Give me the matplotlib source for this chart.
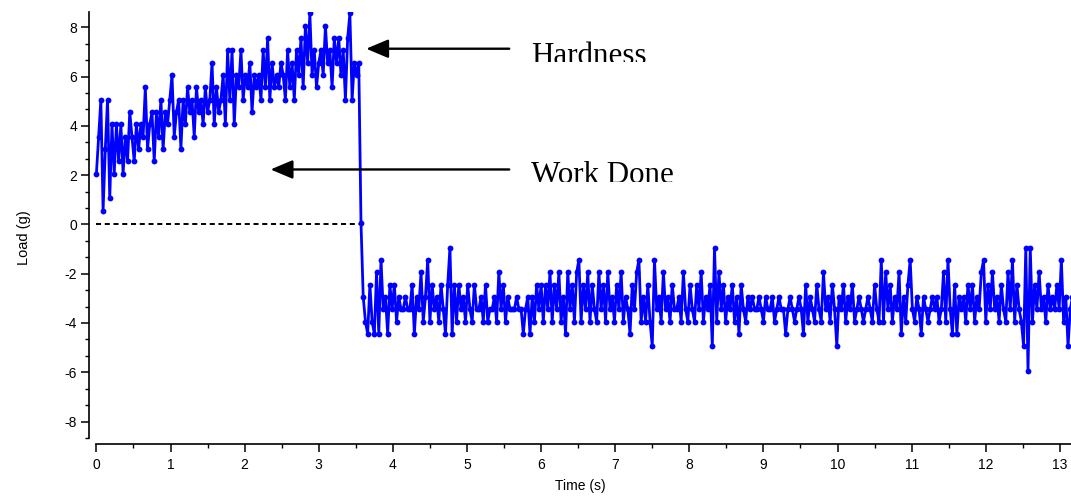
import numpy as np
import matplotlib
matplotlib.use("Agg")
import matplotlib.pyplot as plt
from matplotlib.ticker import MultipleLocator
from matplotlib.transforms import Bbox, TransformedBbox

# ---------------- data ----------------
sample_interval = 0.03  # s between samples

# compression phase (t = 0 ... 3.54 s)
load_compression = [
    2.06, 3.56, 5.06, 0.56, 3.06, 5.06, 1.06, 4.06, 2.06, 4.06,
    2.56, 4.06, 2.06, 3.56, 2.56, 4.56, 3.56, 2.56, 4.06, 3.06,
    4.06, 3.56, 5.56, 3.06, 4.06, 4.56, 2.56, 4.56, 3.56, 5.06,
    3.06, 4.56, 4.06, 5.06, 6.06, 3.56, 4.56, 5.06, 3.06, 5.06,
    4.06, 5.56, 4.56, 5.06, 3.56, 5.56, 4.56, 5.06, 4.06, 5.56,
    4.56, 5.06, 6.56, 4.06, 5.56, 4.56, 5.06, 6.06, 4.06, 7.06,
    5.06, 7.06, 4.06, 6.06, 5.56, 7.06, 5.06, 6.06, 5.56, 6.56,
    4.56, 6.06, 5.56, 6.06, 5.06, 7.06, 5.56, 7.56, 5.06, 6.56,
    5.56, 6.06, 5.56, 6.56, 6.06, 5.06, 7.06, 5.56, 6.56, 5.06,
    7.06, 6.06, 7.56, 5.56, 8.06, 6.56, 8.56, 6.06, 7.06, 5.56,
    6.56, 7.06, 6.06, 8.06, 6.56, 7.06, 5.56, 7.56, 6.56, 7.56,
    6.06, 7.06, 5.06, 7.56, 8.56, 5.06, 6.56, 6.06, 6.56,
]
# probe withdrawal
load_drop = [0.06, -2.94]
# retraction phase (t = 3.63 ... 13.20 s)
load_retraction = [
    # 3.63 - 4.59
    -3.94, -4.44, -2.44, -3.94, -4.44, -1.94, -4.44, -1.44, -3.44, -2.94, -4.44,
    -2.44, -3.44, -2.44, -3.94, -2.94, -3.44, -3.44, -2.94, -3.44, -3.44, -2.44,
    -4.44, -2.94, -3.44, -1.94, -3.94, -2.94, -1.44, -3.94, -2.44, -3.44, -2.94,
    # 4.62 - 5.58
    -3.94, -2.44, -3.44, -4.44, -2.44, -0.94, -4.44, -2.44, -3.94, -2.44, -3.44,
    -2.94, -3.94, -2.44, -3.44, -3.94, -2.44, -3.44, -3.44, -2.94, -3.94, -2.44,
    -3.94, -3.44, -3.44, -2.94, -3.94, -1.94, -3.44, -2.44, -3.94, -2.94, -3.44,
    # 5.61 - 6.57
    -3.44, -3.44, -2.94, -3.44, -3.44, -4.44, -3.44, -2.94, -4.44, -2.94, -3.94,
    -2.44, -3.44, -2.44, -3.94, -2.44, -3.44, -1.94, -3.94, -2.44, -3.44, -1.94,
    -3.94, -2.94, -4.44, -1.94, -3.44, -2.44, -3.94, -1.94, -1.44, -3.94, -2.44,
    # 6.60 - 7.56
    -3.44, -1.94, -3.94, -2.44, -3.44, -3.94, -1.94, -3.44, -2.44, -3.94, -1.94,
    -3.44, -2.94, -3.94, -2.44, -3.44, -1.94, -3.94, -2.94, -3.44, -4.44, -2.44,
    -3.44, -1.94, -1.44, -3.94, -2.94, -3.94, -2.44, -3.94, -4.94, -1.44, -3.44,
    # 7.59 - 8.55
    -2.94, -3.94, -1.94, -3.44, -2.94, -3.94, -2.44, -3.44, -3.44, -2.94, -3.94,
    -1.94, -3.44, -3.94, -2.44, -3.44, -3.94, -2.44, -3.44, -1.94, -3.94, -2.94,
    -3.44, -2.44, -4.94, -0.94, -3.94, -1.94, -3.44, -2.44, -3.94, -2.94, -3.44,
    # 8.58 - 9.54
    -2.44, -3.94, -2.94, -4.44, -2.44, -3.44, -3.94, -2.94, -3.44, -2.94, -3.44,
    -3.44, -2.94, -3.44, -3.94, -2.94, -3.44, -3.44, -2.94, -3.94, -3.44, -2.94,
    -3.44, -3.44, -4.44, -3.44, -2.94, -3.44, -3.94, -3.44, -2.94, -3.44, -4.44,
    # 9.57 - 10.53
    -2.44, -3.94, -2.94, -3.44, -3.94, -2.44, -3.44, -3.94, -1.94, -3.44, -2.94,
    -3.94, -2.44, -3.44, -4.94, -2.94, -3.44, -2.44, -3.94, -2.94, -3.44, -2.44,
    -3.94, -3.44, -2.94, -3.44, -3.94, -3.44, -2.94, -3.44, -3.94, -2.44, -3.44,
    # 10.56 - 11.52
    -3.94, -1.44, -3.94, -1.94, -3.44, -2.44, -3.94, -2.94, -3.44, -1.94, -4.44,
    -2.94, -3.94, -2.44, -1.44, -3.44, -3.94, -2.94, -3.44, -4.44, -2.94, -3.44,
    -3.94, -3.44, -2.94, -3.44, -2.94, -3.94, -3.44, -1.94, -3.94, -1.44, -3.44,
    # 11.55 - 12.51
    -4.44, -2.44, -4.44, -2.94, -3.44, -2.94, -3.94, -2.44, -3.44, -2.44, -3.94,
    -2.94, -3.44, -1.94, -1.44, -3.94, -2.44, -3.44, -1.94, -3.44, -2.94, -3.94,
    -2.44, -3.44, -3.94, -1.94, -3.44, -1.44, -3.94, -2.44, -3.44, -3.94, -4.94,
    # 12.54 - 13.20
    -0.94, -5.94, -0.94, -3.94, -2.44, -3.44, -1.94, -3.44, -2.94, -3.94, -2.44,
    -3.44, -2.94, -3.44, -2.44, -3.44, -1.44, -3.94, -2.94, -4.94, -3.44, -2.94,
    -3.44,
]

load = np.array(load_compression + load_drop + load_retraction)
time = np.arange(len(load)) * sample_interval

# zero reference line (work done region)
work_line_start, work_line_end = 0.0, 3.55

x_ticks = list(range(0, 14))
y_ticks = [-8, -6, -4, -2, 0, 2, 4, 6, 8]

# ---------------- figure ----------------
plt.rcParams['font.family'] = ['Liberation Sans', 'DejaVu Sans']
plt.rcParams['axes.unicode_minus'] = False
fig = plt.figure(figsize=(10.71, 4.98), dpi=100)
W, H = 1071, 498
ax = fig.add_axes([89 / W, 54.5 / H, (W - 89) / W, (486 - 54.5) / H])

ax.plot(time, load, color='#0000ff', lw=2.0, marker='o', ms=4.2,
        markeredgewidth=0, solid_joinstyle='miter')
ax.hlines(0, work_line_start, work_line_end, colors='black', lw=1.4,
          linestyles=(0, (2.6, 1.9)))

ax.set_xlim(-0.1, 13.15)
ax.set_ylim(-8.89, 8.62)

for s in ['top', 'right']:
    ax.spines[s].set_visible(False)
for s in ['left', 'bottom']:
    ax.spines[s].set_linewidth(1.2)
ax.spines['bottom'].set_bounds(0, 13.15)
ax.spines['left'].set_bounds(-8.68, 8.62)

ax.set_xticks(x_ticks)
ax.set_yticks(y_ticks)
ax.xaxis.set_minor_locator(MultipleLocator(0.5))
ax.yaxis.set_minor_locator(MultipleLocator(2 / 3))
ax.tick_params(which='major', direction='out', length=5.5, width=1.1,
               labelsize=10, pad=3)
ax.tick_params(axis='x', which='major', pad=5)
ax.tick_params(which='minor', direction='out', length=2.6, width=1.0)

ax.set_xlabel('Time (s)', fontsize=10, labelpad=5)
ax.set_ylabel('Load (g)', fontsize=10.5)
ax.yaxis.set_label_coords(-0.059, 0.476)

# ---------------- annotations ----------------
arrow_kw = dict(arrowstyle='-|>,head_length=0.9,head_width=0.38',
                color='black', lw=1.7, shrinkA=0, shrinkB=0,
                mutation_scale=15)
ax.annotate('', xy=(3.64, 7.13), xytext=(5.57, 7.13),
            arrowprops=arrow_kw, annotation_clip=False)
ax.annotate('', xy=(2.35, 2.23), xytext=(5.57, 2.23),
            arrowprops=arrow_kw, annotation_clip=False)

serif = ['Liberation Serif', 'DejaVu Serif']
t1 = ax.text(5.87, 6.50, 'Hardness', family=serif, fontsize=22.3,
             ha='left', va='baseline', color='black')
t2 = ax.text(5.87, 1.68, 'Work Done', family=serif, fontsize=22.3,
             ha='left', va='baseline', color='black')
t1.set_clip_box(TransformedBbox(Bbox([[0, (H - 62) / H], [1, 1]]),
                                fig.transFigure))
t1.set_clip_on(True)
t2.set_clip_box(TransformedBbox(Bbox([[0, (H - 182) / H], [1, (H - 140) / H]]),
                                fig.transFigure))
t2.set_clip_on(True)

fig.savefig('out.png', dpi=100)
